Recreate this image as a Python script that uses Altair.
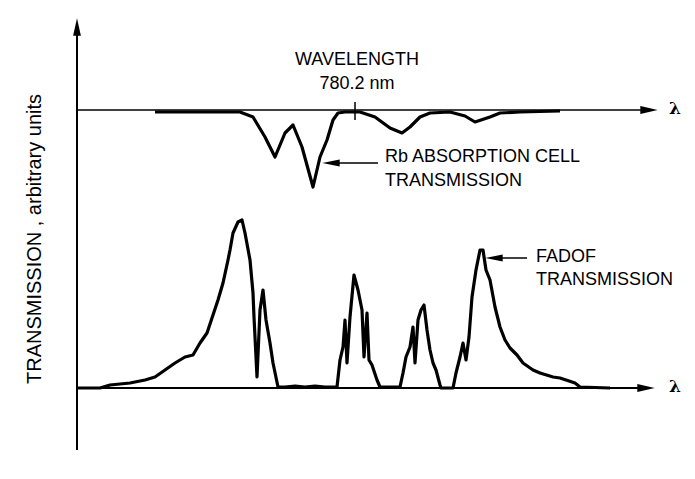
import altair as alt
import pandas as pd

# ---- data (arbitrary wavelength units on x, arbitrary transmission on y) ----
# FADOF transmission trace (height above its baseline)
fadof_x = [78, 100, 110, 130, 145, 155, 165, 175, 185, 193, 200, 207, 213, 218, 223, 228, 230, 233, 238, 242,
           245, 250, 253, 254, 257, 260, 263, 266, 270, 273, 278, 285, 295, 305, 315, 325, 335, 337, 340, 343,
           345, 347, 350, 354, 358, 362, 364, 367, 369, 372, 377, 380, 390, 400, 403, 406, 410, 413, 415, 418,
           421, 424, 427, 430, 433, 436, 440, 441, 453, 456, 460, 463, 466, 469, 472, 476, 480, 483, 486, 490,
           495, 500, 505, 510, 517, 523, 533, 540, 553, 560, 575, 580, 610]
fadof_t = [0, 0, 3, 5, 8, 11, 18, 25, 31, 33, 45, 55, 73, 88, 105, 128, 138, 155, 166, 168,
           155, 128, 95, 71, 11, 78, 98, 68, 45, 25, 1, 1, 2, 1, 2, 1, 1, 1, 28, 41,
           68, 25, 71, 113, 98, 78, 31, 75, 28, 23, 8, 1, 1, 1, 15, 31, 41, 61, 25, 68,
           78, 83, 58, 38, 25, 18, 3, 0, 0, 15, 31, 45, 28, 51, 91, 118, 138, 138, 118, 108,
           81, 61, 48, 40, 33, 25, 18, 15, 11, 10, 5, 1, 0]

# Rb absorption cell transmission trace (dip below its baseline)
rb_x = [155, 200, 240, 253, 265, 275, 285, 293, 302, 313, 320, 327, 333, 338, 345, 360, 375, 390, 402,
        410, 420, 430, 450, 465, 475, 490, 500, 520, 560]
rb_t = [-2, -2, -2, -7, -27, -47, -23, -15, -37, -77, -47, -30, -10, -3, -2, -2, -7, -18, -23,
        -17, -7, -3, -2, -6, -12, -7, -3, -2, -1]

# vertical offsets of the two stacked traces
fadof_base = 91
rb_base = 369

lam_ref = 355          # position of the 780.2 nm marker
axis_x = 77

labels_text = ["WAVELENGTH", "780.2 nm", "Rb ABSORPTION CELL", "TRANSMISSION", "FADOF", "TRANSMISSION"]
labels_x = [357, 357, 385, 385, 536, 536]
labels_y = [419, 395, 322, 298, 222, 199]
labels_align = ["center", "center", "left", "left", "left", "left"]

W, H = 679, 463
xs = alt.Scale(domain=[8, 687])
ys = alt.Scale(domain=[8, 471])

def X(f="x"):
    return alt.X(f + ":Q", scale=xs, axis=None)

def Y(f="y"):
    return alt.Y(f + ":Q", scale=ys, axis=None)

fadof_df = pd.DataFrame({"x": fadof_x, "y": [fadof_base + t for t in fadof_t]})
rb_df = pd.DataFrame({"x": rb_x, "y": [rb_base + t for t in rb_t]})

fadof_line = alt.Chart(fadof_df).mark_line(color="black", strokeWidth=3.2, strokeJoin="round").encode(
    x=X(), y=Y(), order="x:Q")
rb_line = alt.Chart(rb_df).mark_line(color="black", strokeWidth=3.2, strokeJoin="round").encode(
    x=X(), y=Y(), order="x:Q")

# axes drawn as rules
rules_df = pd.DataFrame({
    "x": [axis_x, axis_x, axis_x, lam_ref],
    "x2": [axis_x, 650, 645, lam_ref],
    "y": [29, rb_base, fadof_base, rb_base - 10],
    "y2": [452, rb_base, fadof_base, rb_base + 8],
    "w": [2, 1.5, 2, 1.5],
})
rules = alt.Chart(rules_df).mark_rule(color="black").encode(
    x=X(), x2="x2:Q", y=Y(), y2="y2:Q", strokeWidth=alt.StrokeWidth("w:Q", scale=None))

# arrowheads
up_path = "M-0.45,1L0,-1L0.45,1Z"
right_path = "M-1,-0.45L1,0L-1,0.45Z"
left_path = "M1,-0.4L-1,0L1,0.4Z"

heads_df = pd.DataFrame({
    "x": [axis_x, 649, 646, 331, 494],
    "y": [452, rb_base, fadof_base, 316, 221],
    "shape": [up_path, right_path, right_path, left_path, left_path],
})
heads = alt.Chart(heads_df).mark_point(filled=True, color="black", opacity=1, size=300).encode(
    x=X(), y=Y(), shape=alt.Shape("shape:N", scale=None))

# label arrows
larrow_df = pd.DataFrame({"x": [330, 492], "x2": [378, 527], "y": [316, 221]})
larrows = alt.Chart(larrow_df).mark_rule(color="black", strokeWidth=1.5).encode(
    x=X(), x2="x2:Q", y=Y())

lab_df = pd.DataFrame({"t": labels_text, "x": labels_x, "y": labels_y, "a": labels_align})
lab_c = alt.Chart(lab_df[lab_df.a == "center"]).mark_text(
    font="Liberation Sans", fontSize=18, align="center", baseline="middle", color="black").encode(
    x=X(), y=Y(), text="t:N")
lab_l = alt.Chart(lab_df[lab_df.a == "left"]).mark_text(
    font="Liberation Sans", fontSize=18, align="left", baseline="middle", color="black").encode(
    x=X(), y=Y(), text="t:N")

lam_df = pd.DataFrame({"t": ["λ", "λ"], "x": [675, 675], "y": [rb_base + 1, fadof_base + 1]})
lam = alt.Chart(lam_df).mark_text(font="DejaVu Serif", fontSize=17, fontWeight="bold",
                                  align="center", baseline="middle", color="black").encode(
    x=X(), y=Y(), text="t:N")

ylab_df = pd.DataFrame({"t": ["TRANSMISSION , arbitrary units"], "x": [35], "y": [240]})
ylab = alt.Chart(ylab_df).mark_text(font="Liberation Sans", fontSize=20, angle=270,
                                    align="center", baseline="middle", color="black").encode(
    x=X(), y=Y(), text="t:N")

chart = alt.layer(rules, rb_line, fadof_line, heads, larrows, lab_c, lab_l, lam, ylab).properties(
    width=W, height=H, padding=0, autosize="none", background="white"
).configure_view(stroke=None)

chart.save("out.html", embed_options={"renderer": "svg", "actions": False})
